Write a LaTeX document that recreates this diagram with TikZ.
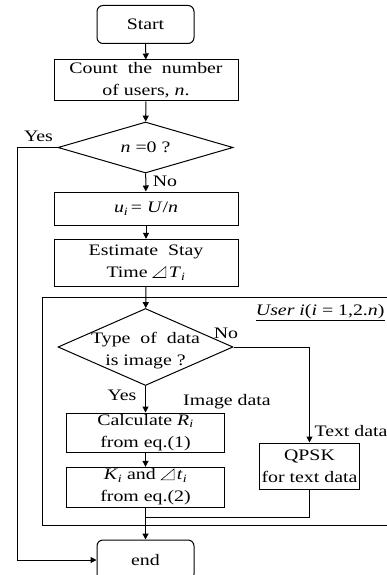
\documentclass[tikz,border=0pt]{standalone}
\usepackage{fontspec}
\setmainfont{Liberation Serif}[FakeStretch=1.24]
\usetikzlibrary{arrows.meta,shapes.geometric}
% thin right-triangle sign used for the time intervals
\newcommand{\rtri}{\tikz[baseline=0pt]\draw[line width=0.55pt,line join=miter]
  (0pt,0pt) -- (13pt,0pt) -- (13pt,11pt) -- cycle;\,}
\begin{document}
\begin{tikzpicture}[x=1pt,y=-1pt,line width=1pt,
  font=\fontsize{16}{22}\selectfont,
  box/.style={draw,rectangle,align=center,inner sep=0pt},
  term/.style={box,rounded corners=6pt,minimum width=97pt,minimum height=38pt},
  dia/.style={draw,diamond,inner sep=0pt},
  txt/.style={inner sep=0pt,align=center},
  arr/.style={-{Triangle[length=6pt,width=6pt]}}]
\useasboundingbox (0,0) rectangle (387,575);

% main column
\node[term] (start) at (145.5,24.5) {Start};
\node[box,minimum width=184pt,minimum height=41pt] (count) at (146,80.5)
  {Count\ \ the\ \ number\\of users, \textit{n}.};
\node[dia,minimum width=175pt,minimum height=51pt] (d1) at (145.5,147.5) {};
\node[txt] (d1t) at (d1) {\textit{n} =0 ?};
\node[box,minimum width=184pt,minimum height=33pt] (ui) at (146,208.5)
  {\textit{u}\textsubscript{\textit{i}}\,= \textit{U}/\textit{n}};
\node[box,minimum width=184pt,minimum height=47pt] (est) at (146,262.5)
  {Estimate\ \ Stay\\Time \rtri\textit{T}\textsubscript{\textit{i}}};

% per-user frame (open to the right)
\draw (392,297) -- (42,297) -- (42,525) -- (392,525);
\node[txt,anchor=east] (user) at (385,313)
  {\underline{\textit{User i}(\textit{i} = 1,2.\textit{n})}};

\node[dia,minimum width=175pt,minimum height=77pt] (d2) at (145.5,347) {};
\node[txt] (d2t) at (145.5,351) {Type\ \ of\ \ data\\is image ?};
\node[box,minimum width=158pt,minimum height=39pt] (calc) at (145.5,432.5)
  {Calculate \textit{R}\textsubscript{\textit{i}}\\from eq.(1)};
\node[box,minimum width=158pt,minimum height=40pt] (kbox) at (145.5,487)
  {\textit{K}\textsubscript{\textit{i}} and \rtri\textit{t}\textsubscript{\textit{i}}\\from eq.(2)};
\node[box,minimum width=100pt,minimum height=46pt] (qpsk) at (309.5,466)
  {QPSK\\for text data};
\node[term,minimum height=40pt] (end) at (145.5,560) {end};

% labels
\node[txt] (yes1) at (38.5,136) {Yes};
\node[txt] (no1) at (165,181) {No};
\node[txt] (no2) at (226,333) {No};
\node[txt] (yes2) at (122,395) {Yes};
\node[txt] (imgd) at (227,402) {Image data};
\node[txt] (txtd) at (351,431) {Text data};

% helper points
\coordinate (yl) at (17,147.5);
\coordinate (m) at (145.5,517);

% connectors
\draw[arr] (start) -- (count);
\draw[arr] (count) -- (d1);
\draw[arr] (d1) -- (ui);
\draw[arr] (ui) -- (est);
\draw[arr] (est) -- (d2);
\draw[arr] (d2) -- (calc);
\draw[arr] (calc) -- (kbox);
\draw[arr] (d2.east) -| (qpsk.north);
\draw (kbox.south) -- (m);
\draw (qpsk.south) |- (m);
\draw[arr,line width=1.4pt] (m) -- (end.north);
\draw[arr] (d1.west) -- (yl) |- (end.west);
\end{tikzpicture}
\end{document}
